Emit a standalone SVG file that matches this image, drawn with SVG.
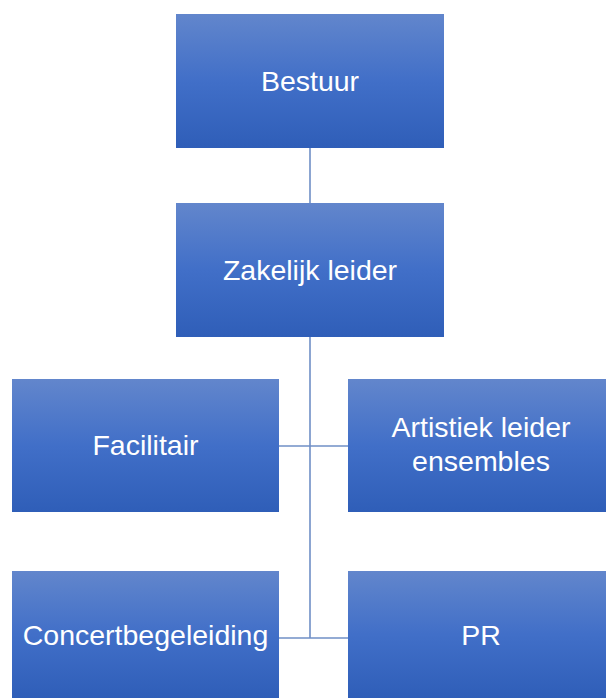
<svg xmlns="http://www.w3.org/2000/svg" width="606" height="698" viewBox="0 0 606 698">
<defs>
<linearGradient id="g" x1="0" y1="0" x2="0" y2="1">
<stop offset="0" stop-color="#6286cc"/>
<stop offset="0.5" stop-color="#416fc8"/>
<stop offset="1" stop-color="#2f5eb8"/>
</linearGradient>
</defs>
<style>
.box{fill:url(#g);}
.t{font-family:"Liberation Sans",Arial,sans-serif;font-size:28.5px;fill:#ffffff;text-anchor:middle;}
.c{stroke:#6f8fc6;stroke-width:1.6;fill:none;}
</style>
<g id="connectors">
<line class="c" x1="310" y1="148" x2="310" y2="203"/>
<line class="c" x1="310" y1="337" x2="310" y2="638"/>
<line class="c" x1="279" y1="446" x2="348" y2="446"/>
<line class="c" x1="279" y1="638" x2="348" y2="638"/>
</g>
<g id="bestuur"><rect class="box" x="176" y="14" width="268" height="134"/><text class="t" x="310" y="91">Bestuur</text></g>
<g id="zakelijk"><rect class="box" x="176" y="203" width="268" height="134"/><text class="t" x="310" y="280">Zakelijk leider</text></g>
<g id="facilitair"><rect class="box" x="12" y="379" width="267" height="133"/><text class="t" x="145.5" y="455">Facilitair</text></g>
<g id="artistiek"><rect class="box" x="348" y="379" width="258" height="133"/><text class="t" x="481" y="437">Artistiek leider</text><text class="t" x="481" y="471">ensembles</text></g>
<g id="concert"><rect class="box" x="12" y="571" width="267" height="127"/><text class="t" x="145.5" y="645">Concertbegeleiding</text></g>
<g id="pr"><rect class="box" x="348" y="571" width="258" height="127"/><text class="t" x="481" y="645">PR</text></g>
</svg>
